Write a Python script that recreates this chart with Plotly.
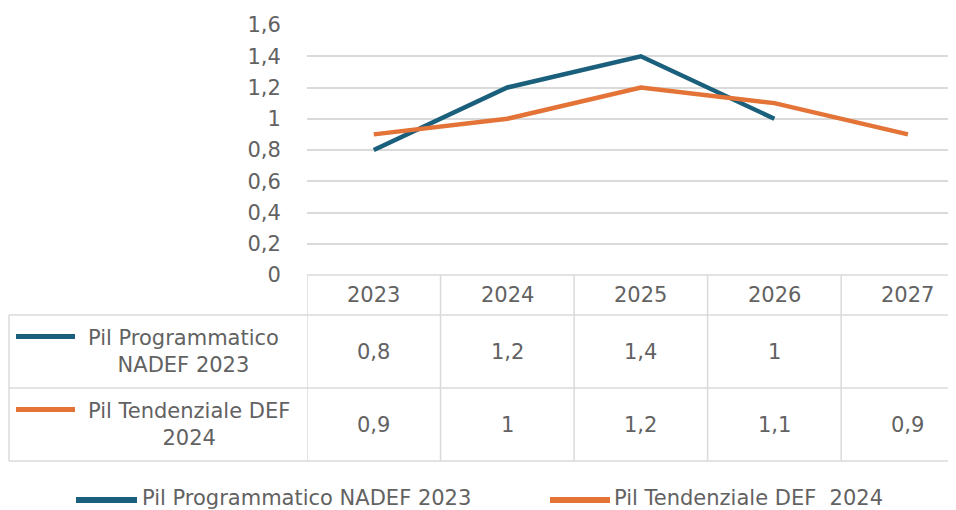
import plotly.graph_objects as go

# ---- data ----
years = ["2023", "2024", "2025", "2026", "2027"]
series_names = ["Pil Programmatico NADEF 2023", "Pil Tendenziale DEF  2024"]
row_labels = ["Pil Programmatico<br>NADEF 2023", "Pil Tendenziale DEF<br>2024"]
nadef_2023 = [0.8, 1.2, 1.4, 1.0, None]
def_2024 = [0.9, 1.0, 1.2, 1.1, 0.9]
y_tickvals = [0, 0.2, 0.4, 0.6, 0.8, 1.0, 1.2, 1.4, 1.6]
y_ticktext = ["0", "0,2", "0,4", "0,6", "0,8", "1", "1,2", "1,4", "1,6"]

BLUE = "#1a5f7c"
ORANGE = "#e37336"
GRID = "#dadada"
TXT = "#626262"
FONT = "DejaVu Sans"
FS = 21

# the page body adds an 8px offset; the figure fills the rest of the window
OFF = 8
W, H = 956 - OFF, 510 - OFF


def px_x(p):
    return (p - OFF) / W


def px_y(p):
    return 1 - (p - OFF) / H


def fmt(v):
    if v is None:
        return ""
    return ("%g" % v).replace(".", ",")


fig = go.Figure()
series = [(series_names[0], nadef_2023, BLUE), (series_names[1], def_2024, ORANGE)]
for name, vals, col in series:
    fig.add_trace(go.Scatter(
        x=years, y=vals, mode="lines", name=name,
        line=dict(color=col, width=4.5), connectgaps=False, showlegend=False,
    ))

plot_left = 307
n = len(years)

shapes = []
annotations = []
tfont = dict(family=FONT, size=FS, color=TXT)

# table geometry (pixels in the window)
y_top, y_h, y_r1, y_r2 = 275, 315, 388, 461
left_edge = 9


def hline(ypx, x0px):
    shapes.append(dict(type="line", xref="paper", yref="paper",
                       x0=px_x(x0px), x1=1, y0=px_y(ypx), y1=px_y(ypx),
                       line=dict(color=GRID, width=1.5), layer="below"))


hline(y_top, plot_left)
hline(y_h, left_edge)
hline(y_r1, left_edge)
hline(y_r2, left_edge)

shapes.append(dict(type="line", xref="paper", yref="paper",
                   x0=px_x(left_edge), x1=px_x(left_edge), y0=px_y(y_h), y1=px_y(y_r2),
                   line=dict(color=GRID, width=1.5), layer="below"))
for i in range(n):
    shapes.append(dict(type="line", xref="x", yref="paper",
                       x0=i - 0.5, x1=i - 0.5, y0=px_y(y_top), y1=px_y(y_r2),
                       line=dict(color=GRID, width=1.5), layer="below"))

# header cells
for i, yr in enumerate(years):
    annotations.append(dict(x=i, xref="x", y=px_y((y_top + y_h) / 2), yref="paper",
                            xanchor="center", yanchor="middle",
                            text=yr, showarrow=False, font=tfont))

# value cells
row_centers = [(y_h + y_r1) / 2, (y_r1 + y_r2) / 2]
for (name, vals, col), yc in zip(series, row_centers):
    for i, v in enumerate(vals):
        annotations.append(dict(x=i, xref="x", y=px_y(yc), yref="paper",
                                xanchor="center", yanchor="middle",
                                text=fmt(v), showarrow=False, font=tfont))

# row labels with legend keys
label_cx = [183, 189]
for (name, vals, col), lab, yc, cx in zip(series, row_labels, row_centers, label_cx):
    annotations.append(dict(x=px_x(cx), xref="paper", y=px_y(yc), yref="paper",
                            xanchor="center", yanchor="middle",
                            text=lab, showarrow=False, align="center", font=tfont))
    ly = yc - 15
    shapes.append(dict(type="line", xref="paper", yref="paper",
                       x0=px_x(16), x1=px_x(75), y0=px_y(ly), y1=px_y(ly),
                       line=dict(color=col, width=5)))

# bottom legend
leg = [(series_names[0], BLUE, 76, 137, 140), (series_names[1], ORANGE, 550, 610, 612)]
for name, col, x0, x1, tx in leg:
    shapes.append(dict(type="line", xref="paper", yref="paper",
                       x0=px_x(x0), x1=px_x(x1), y0=px_y(500), y1=px_y(500),
                       line=dict(color=col, width=6)))
    annotations.append(dict(x=px_x(tx), xref="paper", y=px_y(498), yref="paper",
                            text=name.replace("  ", "\u00a0 "), showarrow=False,
                            xanchor="left", yanchor="middle", font=tfont))

fig.update_layout(
    width=W, height=H,
    margin=dict(l=0, r=0, t=0, b=0, autoexpand=False),
    paper_bgcolor="white", plot_bgcolor="white",
    separators=",.",
    shapes=shapes, annotations=annotations,
    xaxis=dict(domain=[px_x(plot_left), 1], range=[-0.5, 4.36], type="category",
               showticklabels=False, showgrid=False, zeroline=False, showline=False,
               automargin=False, fixedrange=True),
    yaxis=dict(domain=[px_y(y_top), px_y(25)], range=[0, 1.6],
               tickvals=y_tickvals, ticktext=y_ticktext,
               showgrid=True, gridcolor=GRID, gridwidth=1.5, zeroline=False,
               ticks="outside", ticklen=21, tickcolor="rgba(0,0,0,0)",
               automargin=False,
               tickfont=tfont, fixedrange=True),
    showlegend=False,
)

fig.write_html("out.html")
